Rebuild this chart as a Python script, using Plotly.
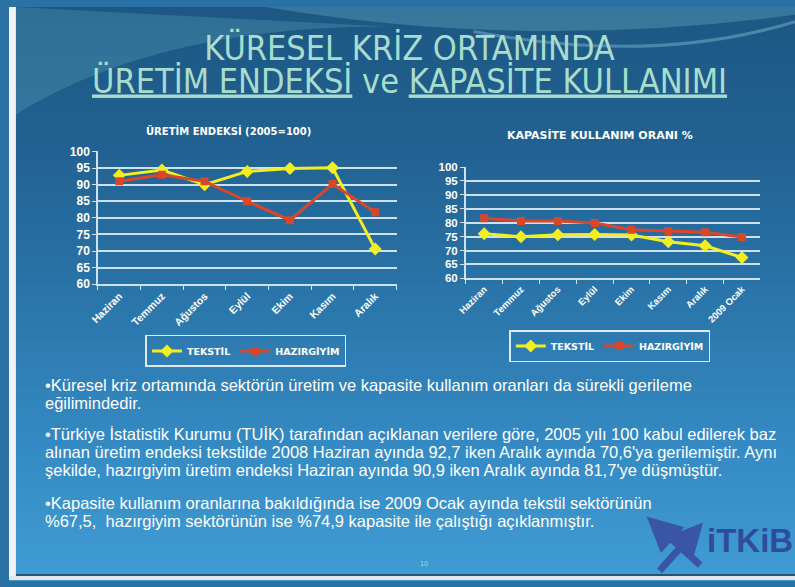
import plotly.graph_objects as go

W, H = 795, 587

# ---------------- data ----------------
months_left = ["Haziran", "Temmuz", "Ağustos", "Eylül", "Ekim", "Kasım", "Aralık"]
tekstil_uretim = [92.8, 94.4, 90.0, 94.0, 94.9, 95.1, 70.6]
hazir_uretim = [91.0, 93.0, 91.0, 85.0, 79.3, 90.2, 81.7]

months_right = ["Haziran", "Temmuz", "Ağustos", "Eylül", "Ekim", "Kasım", "Aralık", "2009 Ocak"]
tekstil_kapasite = [76.0, 75.0, 75.7, 75.8, 75.6, 73.2, 71.7, 67.5]
hazir_kapasite = [81.6, 80.6, 80.6, 79.9, 77.5, 77.0, 76.6, 74.9]

yticks = [60, 65, 70, 75, 80, 85, 90, 95, 100]

def px(x):
    return x / W

def py(y):
    return 1 - y / H

YEL = "#f2ee22"
RED = "#d9472b"
WHITE = "#ffffff"

fig = go.Figure()

# left chart
fig.add_trace(go.Scatter(x=months_left, y=tekstil_uretim, name="TEKSTİL", mode="lines+markers",
                         line=dict(color=YEL, width=3), marker=dict(symbol="diamond", size=10, color=YEL),
                         xaxis="x", yaxis="y", legend="legend"))
fig.add_trace(go.Scatter(x=months_left, y=hazir_uretim, name="HAZIRGİYİM", mode="lines+markers",
                         line=dict(color=RED, width=3), marker=dict(symbol="square", size=8, color=RED),
                         xaxis="x", yaxis="y", legend="legend"))
# right chart
fig.add_trace(go.Scatter(x=months_right, y=tekstil_kapasite, name="TEKSTİL", mode="lines+markers",
                         line=dict(color=YEL, width=3), marker=dict(symbol="diamond", size=10, color=YEL),
                         xaxis="x2", yaxis="y2", legend="legend2"))
fig.add_trace(go.Scatter(x=months_right, y=hazir_kapasite, name="HAZIRGİYİM", mode="lines+markers",
                         line=dict(color=RED, width=3), marker=dict(symbol="square", size=8, color=RED),
                         xaxis="x2", yaxis="y2", legend="legend2"))

GRID = "rgba(225,238,245,0.9)"
BOLD = "Liberation Sans"

common_x = dict(type="category", tickangle=-45, showgrid=False,
                showline=True, linecolor=GRID, linewidth=1.5, ticks="outside",
                tickson="boundaries", ticklen=4, tickcolor=GRID, zeroline=False, fixedrange=True)
common_y = dict(range=[60, 100], tickvals=yticks, showgrid=True,
                gridcolor=GRID, gridwidth=1.5, showline=True, linecolor=GRID, linewidth=1.5,
                ticks="outside", ticklen=4, tickcolor=GRID, zeroline=False, ticksuffix=" ",
                fixedrange=True)

fig.update_layout(
    width=W, height=H,
    margin=dict(l=0, r=0, t=0, b=0),
    paper_bgcolor="#2a72a6",
    plot_bgcolor="rgba(0,0,0,0)",
    showlegend=True,
    xaxis=dict(domain=[px(90), px(392)], anchor="y", range=[-0.5, 6.5],
               tickfont=dict(family=BOLD, size=10.5, color=WHITE, weight="bold"), **common_x),
    yaxis=dict(domain=[py(284), py(148)], anchor="x",
               tickfont=dict(family=BOLD, size=12, color=WHITE, weight="bold"), **common_y),
    xaxis2=dict(domain=[px(462), px(760)], anchor="y2", range=[-0.5, 7.5],
                tickfont=dict(family=BOLD, size=9.5, color=WHITE, weight="bold"), **common_x),
    yaxis2=dict(domain=[py(278), py(164)], anchor="x2",
                tickfont=dict(family=BOLD, size=11.5, color=WHITE, weight="bold"), **common_y),
    legend=dict(orientation="h", x=px(138), y=py(336), xanchor="left", yanchor="top",
                bgcolor="rgba(0,0,0,0)", bordercolor="#dfe9f0", borderwidth=1.5,
                font=dict(family="DejaVu Sans", size=9.5, color=WHITE, weight="bold"),
                itemwidth=30, tracegroupgap=0),
    legend2=dict(orientation="h", x=px(506), y=py(331), xanchor="left", yanchor="top",
                 bgcolor="rgba(0,0,0,0)", bordercolor="#dfe9f0", borderwidth=1.5,
                 font=dict(family="DejaVu Sans", size=9.5, color=WHITE, weight="bold"),
                 itemwidth=30, tracegroupgap=0),
)

# ---------------- background gradient ----------------
stops = [(0, (0x1d, 0x57, 0x82)), (150, (0x22, 0x62, 0x92)), (300, (0x2a, 0x75, 0xaa)),
         (450, (0x35, 0x8a, 0xc3)), (587, (0x40, 0x9c, 0xd4))]

def col_at(y):
    for (y0, c0), (y1, c1) in zip(stops[:-1], stops[1:]):
        if y0 <= y <= y1:
            t = (y - y0) / (y1 - y0)
            return "rgb(%d,%d,%d)" % tuple(round(a + (b - a) * t) for a, b in zip(c0, c1))
    return "rgb(64,156,212)"

shapes = []
n = 60
for i in range(n):
    y0 = H * i / n
    y1 = H * (i + 1) / n + 1
    shapes.append(dict(type="rect", xref="paper", yref="paper", x0=0, x1=1,
                       y0=py(y1), y1=py(y0), fillcolor=col_at((y0 + y1) / 2),
                       line=dict(width=0), layer="below"))

# decorative waves
shapes.append(dict(type="path", xref="paper", yref="paper", layer="below",
                   path="M %f %f Q %f %f %f %f L %f %f Z" % (px(7), py(110), px(150), py(20), px(380), py(20),
                                                            px(7), py(0)),
                   fillcolor="rgba(120,200,215,0.22)", line=dict(width=0)))
shapes.append(dict(type="path", xref="paper", yref="paper", layer="below",
                   path="M %f %f Q %f %f %f %f L %f %f L %f %f Z" % (px(260), py(0), px(520), py(45), px(795), py(8),
                                                                    px(795), py(0), px(260), py(0)),
                   fillcolor="rgba(140,210,225,0.25)", line=dict(width=0)))
shapes.append(dict(type="path", xref="paper", yref="paper", layer="below",
                   path="M %f %f Q %f %f %f %f" % (px(470), py(25), px(650), py(60), px(795), py(15)),
                   line=dict(color="rgba(160,220,235,0.35)", width=3)))

# slide frame
shapes.append(dict(type="rect", xref="paper", yref="paper", x0=0, x1=px(7), y0=0, y1=1,
                   fillcolor="#f2f2f2", line=dict(width=0)))
shapes.append(dict(type="rect", xref="paper", yref="paper", x0=0, x1=1, y0=0, y1=py(583),
                   fillcolor="#e6e6e6", line=dict(width=0)))
shapes.append(dict(type="line", xref="paper", yref="paper", x0=px(7), x1=1, y0=py(582), y1=py(582),
                   line=dict(color="#1d3d5a", width=1.5)))

# logo globe
shapes.append(dict(type="circle", xref="paper", yref="paper", x0=px(676), x1=px(692), y0=py(558), y1=py(541),
                   fillcolor="#c7d5ea", line=dict(color="#2d4b9a", width=2)))

fig.update_layout(shapes=shapes)

TITLE = "#a8dccd"
TFONT = "DejaVu Sans Condensed, Liberation Sans"
big = "<span style='font-size:34px'>%s</span>"
ann = [
    dict(text=big % "KÜRESEL KRİZ ORTAMINDA" + "<br>" +
         big % "<u>ÜRETİM ENDEKSİ</u> ve <u>KAPASİTE KULLANIMI</u>",
         x=px(405), y=py(59), font=dict(family=TFONT, size=25, color=TITLE)),
    dict(text="ÜRETİM ENDEKSİ (2005=100)", x=px(222), y=py(127),
         font=dict(family="DejaVu Sans", size=10, color=WHITE, weight="bold")),
    dict(text="KAPASİTE KULLANIM ORANI %", x=px(598), y=py(131),
         font=dict(family="DejaVu Sans", size=11, color=WHITE, weight="bold")),
    dict(text="10", x=px(420), y=py(570), font=dict(family="Liberation Sans", size=7, color="#b5d3e8")),
]
for a in ann:
    a.update(xref="paper", yref="paper", showarrow=False, xanchor="center", yanchor="middle")

body = [
    ("•Küresel kriz ortamında sektörün üretim ve kapasite kullanım oranları da sürekli gerileme", 387),
    ("eğilimindedir.", 406),
    ("•Türkiye İstatistik Kurumu (TUİK) tarafından açıklanan verilere göre, 2005 yılı 100 kabul edilerek baz", 437),
    ("alınan üretim endeksi tekstilde 2008 Haziran ayında 92,7 iken Aralık ayında 70,6'ya gerilemiştir. Aynı", 456),
    ("şekilde, hazırgiyim üretim endeksi Haziran ayında 90,9 iken Aralık ayında 81,7'ye düşmüştür.", 474),
    ("•Kapasite kullanım oranlarına bakıldığında ise 2009 Ocak ayında tekstil sektörünün", 508),
    ("%67,5,  hazırgiyim sektörünün ise %74,9 kapasite ile çalıştığı açıklanmıştır.", 527),
]
for t, yy in body:
    ann.append(dict(text=t, x=px(34), y=py(yy), xref="paper", yref="paper", showarrow=False,
                    xanchor="left", yanchor="middle",
                    font=dict(family="Liberation Sans", size=16.5, color=WHITE)))

# logo
ann.append(dict(text="<b>iTKiB</b>", x=px(795), y=py(547), xref="paper", yref="paper", showarrow=False,
                xanchor="right", yanchor="middle",
                font=dict(family="Liberation Sans", size=33, color="#2f4c9c")))
ann.append(dict(text="", x=px(645), y=py(522), xref="paper", yref="paper", showarrow=True,
                ax=55, ay=50, arrowhead=2, arrowsize=1, arrowwidth=7, arrowcolor="#3a55a6"))
ann.append(dict(text="", x=px(702), y=py(528), xref="paper", yref="paper", showarrow=True,
                ax=-45, ay=50, arrowhead=2, arrowsize=1, arrowwidth=7, arrowcolor="#3a55a6"))

fig.update_layout(annotations=ann)

fig.write_html("out.html", config={"displayModeBar": False},
               post_script="document.body.style.margin='0';document.body.style.overflow='hidden';")
